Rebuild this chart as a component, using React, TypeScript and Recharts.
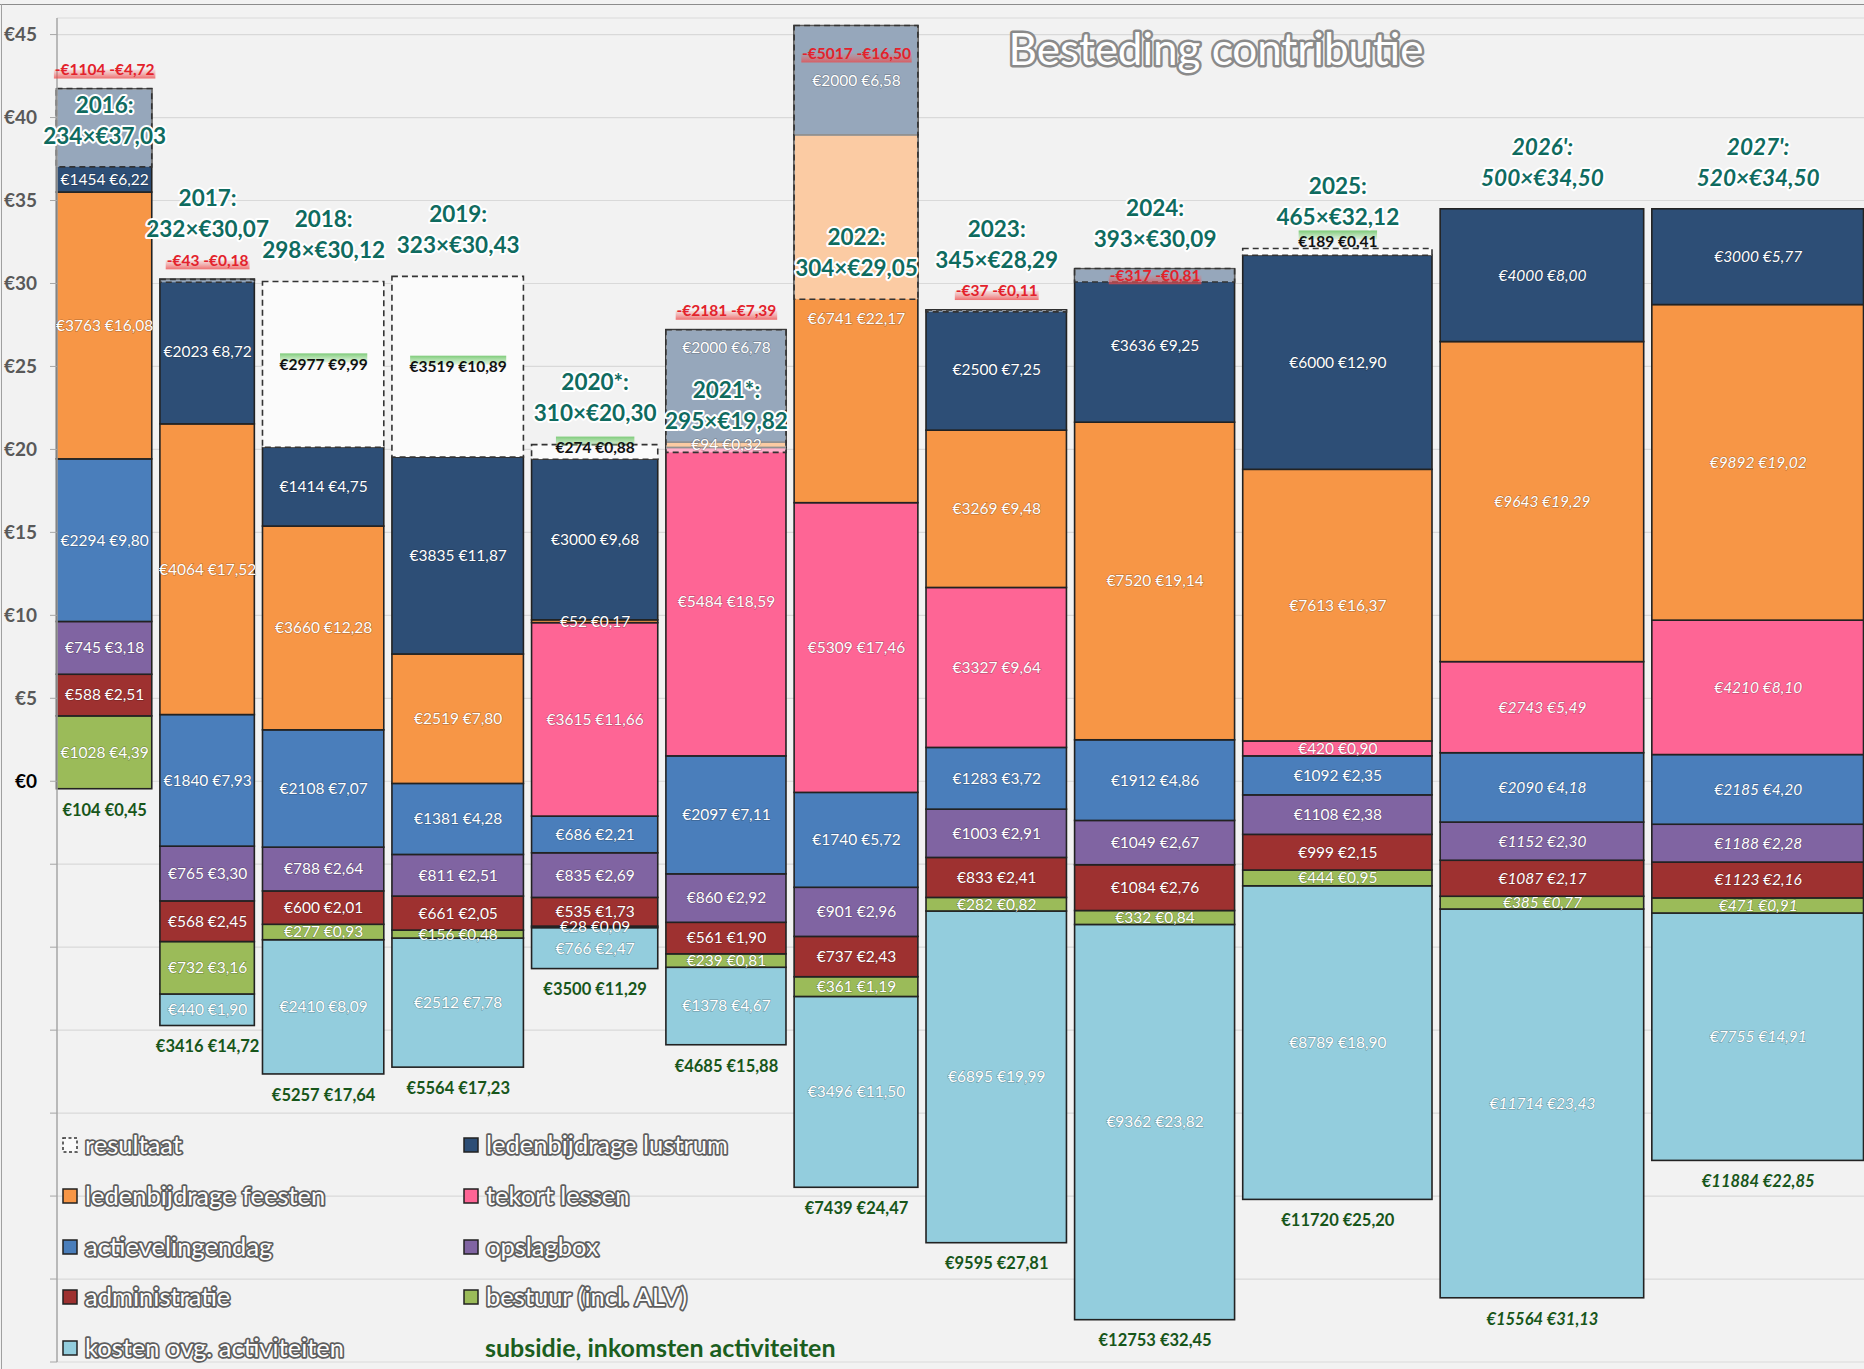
import React from "react";
import { ComposedChart, Bar, Line, XAxis, YAxis, CartesianGrid } from "recharts";

// --- data (per-member values in €, totals in €) ---
const years = ["2016", "2017", "2018", "2019", "2020*", "2021*", "2022", "2023", "2024", "2025", "2026'", "2027'"];
const members = [234, 232, 298, 323, 310, 295, 304, 345, 393, 465, 500, 520];
const contribution = [37.03, 30.07, 30.12, 30.43, 20.3, 19.82, 29.05, 28.29, 30.09, 32.12, 34.5, 34.5];

const subsidieEur = [104, 3416, 5257, 5564, 3500, 4685, 7439, 9595, 12753, 11720, 15564, 11884];
const subsidiePer = [0.45, 14.72, 17.64, 17.23, 11.29, 15.88, 24.47, 27.81, 32.45, 25.2, 31.13, 22.85];

const kostenEur = [0, 440, 2410, 2512, 766, 1378, 3496, 6895, 9362, 8789, 11714, 7755];
const kostenPer = [0, 1.9, 8.09, 7.78, 2.47, 4.67, 11.5, 19.99, 23.82, 18.9, 23.43, 14.91];
const bestuurEur = [1028, 732, 277, 156, 28, 239, 361, 282, 332, 444, 385, 471];
const bestuurPer = [4.39, 3.16, 0.93, 0.48, 0.09, 0.81, 1.19, 0.82, 0.84, 0.95, 0.77, 0.91];
const adminEur = [588, 568, 600, 661, 535, 561, 737, 833, 1084, 999, 1087, 1123];
const adminPer = [2.51, 2.45, 2.01, 2.05, 1.73, 1.9, 2.43, 2.41, 2.76, 2.15, 2.17, 2.16];
const opslagEur = [745, 765, 788, 811, 835, 860, 901, 1003, 1049, 1108, 1152, 1188];
const opslagPer = [3.18, 3.3, 2.64, 2.51, 2.69, 2.92, 2.96, 2.91, 2.67, 2.38, 2.3, 2.28];
const actieEur = [2294, 1840, 2108, 1381, 686, 2097, 1740, 1283, 1912, 1092, 2090, 2185];
const actiePer = [9.8, 7.93, 7.07, 4.28, 2.21, 7.11, 5.72, 3.72, 4.86, 2.35, 4.18, 4.2];
const lessenEur = [0, 0, 0, 0, 3615, 5484, 5309, 3327, 0, 420, 2743, 4210];
const lessenPer = [0, 0, 0, 0, 11.66, 18.59, 17.46, 9.64, 0, 0.9, 5.49, 8.1];
const feestenEur = [3763, 4064, 3660, 2519, 52, 94, 6741, 3269, 7520, 7613, 9643, 9892];
const feestenPer = [16.08, 17.52, 12.28, 7.8, 0.17, 0.32, 22.17, 9.48, 19.14, 16.37, 19.29, 19.02];
const lustrumEur = [1454, 2023, 1414, 3835, 3000, 2000, 2000, 2500, 3636, 6000, 4000, 3000];
const lustrumPer = [6.22, 8.72, 4.75, 11.87, 9.68, 6.78, 6.58, 7.25, 9.25, 12.9, 8.0, 5.77];
const resultaatEur = [-1104, -43, 2977, 3519, 274, -2181, -5017, -37, -317, 189, 0, 0];
const resultaatPer = [-4.72, -0.18, 9.99, 10.89, 0.88, -7.39, -16.5, -0.11, -0.81, 0.41, 0, 0];

const yTicks = [-35, -30, -25, -20, -15, -10, -5, 0, 5, 10, 15, 20, 25, 30, 35, 40, 45];

const legendRows = [
  ["resultaat", "ledenbijdrage lustrum"],
  ["ledenbijdrage feesten", "tekort lessen"],
  ["actievelingendag", "opslagbox"],
  ["administratie", "bestuur (incl. ALV)"],
  ["kosten ovg. activiteiten", "subsidie, inkomsten activiteiten"],
];

// --- layout ---
const W = 1864;
const H = 1369;
const MARGIN = { top: 18, right: 0, bottom: 7, left: 0 };
const Y_AXIS_W = 57;
const Y_DOMAIN = [-35, 46];
const GAP = 20; // gap between columns, in member units
const FONT = "Lato, 'Open Sans', sans-serif";

const starts: number[] = [];
let acc = 0;
members.forEach((m) => {
  starts.push(acc);
  acc += m + GAP;
});
const X_TOTAL = acc - GAP;
const PX_PER_MEMBER = (W - Y_AXIS_W - MARGIN.right) / X_TOTAL;
const PX_PER_EURO = (H - MARGIN.top - MARGIN.bottom) / (Y_DOMAIN[1] - Y_DOMAIN[0]);

const COLORS: Record<string, string> = {
  kosten: "#93cddd",
  bestuur: "#9bbb59",
  admin: "#9e3130",
  opslag: "#8064a2",
  actie: "#4a7ebb",
  lessen: "#fe6595",
  feesten: "#f79646",
  lustrum: "#2d4e76",
};

const SEGS = [
  { key: "kosten", eur: kostenEur, per: kostenPer },
  { key: "bestuur", eur: bestuurEur, per: bestuurPer },
  { key: "admin", eur: adminEur, per: adminPer },
  { key: "opslag", eur: opslagEur, per: opslagPer },
  { key: "actie", eur: actieEur, per: actiePer },
  { key: "lessen", eur: lessenEur, per: lessenPer },
  { key: "feesten", eur: feestenEur, per: feestenPer },
  { key: "lustrum", eur: lustrumEur, per: lustrumPer },
];

const rows = years.map((y, i) => {
  const r: any = {
    idx: i,
    year: y,
    x: starts[i] + members[i] / 2,
    members: members[i],
    contrib: contribution[i],
    base: -subsidiePer[i],
    resPos: Math.max(0, resultaatPer[i]),
    deficit: Math.max(0, -resultaatPer[i]),
  };
  SEGS.forEach((s) => (r[s.key] = s.per[i]));
  return r;
});

const fmt = (v: number) => Math.abs(v).toFixed(2).replace(".", ",");
const isForecast = (i: number) => years[i].endsWith("'");

// deficit size classes: big box holds the year label, mid box holds the red label
const BIG = 2.4;
const MID = 0.5;

const segLow = (i: number, k: number) => {
  let lo = -subsidiePer[i];
  for (let j = 0; j < k; j++) lo += SEGS[j].per[i];
  return lo;
};
const stackTop = (i: number) => segLow(i, SEGS.length);

const segMid = (i: number, k: number) => {
  const v = SEGS[k].per[i];
  if (!v) return null;
  const lo = segLow(i, k);
  let mid = lo + v / 2;
  const c = contribution[i];
  const d = rows[i].deficit;
  if (d > 0 && mid > c && c - lo >= 1) mid = (lo + c) / 2;
  // keep clear of a year label that sits inside a big deficit box
  if (d > BIG && mid > c + 1.1 && mid < c + 4.6) mid = c + 6.3;
  return mid;
};

const textWidth = (t: string, size: number) => {
  let w = 0;
  for (const ch of t) w += ch === " " || ch === "," ? 0.25 : ch === "-" ? 0.33 : 0.57;
  return w * size;
};

// --- shapes ---
function columnShape(fill: string, stroke: string, dash?: string, fillOpacity = 1) {
  return (p: any) => {
    let { x, y, width, height } = p;
    const i = p.index;
    if (height == null || Math.abs(height) < 0.01 || x == null) return <g />;
    if (height < 0) {
      y += height;
      height = -height;
    }
    const cx = x + width / 2;
    const w = (p.payload?.members ?? members[i]) * PX_PER_MEMBER;
    return (
      <rect
        x={cx - w / 2}
        y={y}
        width={w}
        height={height}
        fill={fill}
        fillOpacity={fillOpacity}
        stroke={stroke}
        strokeWidth={1.6}
        strokeDasharray={dash}
      />
    );
  };
}

const empty = (p: any, tag: string) => <g key={`${tag}${p.index}`} />;
const bad = (p: any) => p.cy == null || isNaN(p.cy) || p.cx == null;

function segLabel(k: number) {
  return (p: any) => {
    if (bad(p)) return empty(p, `s${k}_`);
    const i = p.index;
    const s = SEGS[k];
    return (
      <text
        key={`s${k}_${i}`}
        x={p.cx}
        y={p.cy}
        dy="0.35em"
        textAnchor="middle"
        fontFamily={FONT}
        fontSize={15.5}
        fontStyle={isForecast(i) ? "italic" : "normal"}
        fill="#ffffff"
        stroke="rgba(0,0,0,0.22)"
        strokeWidth={1.4}
        paintOrder="stroke"
      >
        {`€${s.eur[i]} €${fmt(s.per[i])}`}
      </text>
    );
  };
}

// anchor: top of the resultaat box; offset depends on the box height
const resLabel = (p: any) => {
  if (bad(p)) return empty(p, "r");
  const i = p.index;
  const t = `€${resultaatEur[i]} €${fmt(resultaatPer[i])}`;
  const w = textWidth(t, 15.5);
  const boxPx = resultaatPer[i] * PX_PER_EURO;
  const y = boxPx < 10 ? p.cy - 7 : boxPx < 20 ? p.cy + 3 : p.cy + boxPx / 2;
  return (
    <g key={`r${i}`}>
      <rect x={p.cx - w / 2} y={y - 11} width={w} height={9} fill="url(#greenHl)" />
      <text x={p.cx} y={y} dy="0.35em" textAnchor="middle" fontFamily={FONT} fontSize={15.5} fontWeight={700} fill="#111">
        {t}
      </text>
    </g>
  );
};

const redLabel = (p: any) => {
  if (bad(p)) return empty(p, "n");
  const i = p.index;
  const d = rows[i].deficit;
  const t = `-€${Math.abs(resultaatEur[i])} -€${fmt(resultaatPer[i])}`;
  const w = textWidth(t, 15.5);
  let y = p.cy - 19;
  if (d >= MID && d <= BIG) y = p.cy + (d * PX_PER_EURO) / 2;
  else if (y < 35) y = p.cy + 28;
  return (
    <g key={`n${i}`}>
      <rect x={p.cx - w / 2 - 2} y={y} width={w + 4} height={9} fill="url(#redHl)" />
      <text x={p.cx} y={y} dy="0.35em" textAnchor="middle" fontFamily={FONT} fontSize={15.5} fontWeight={700} fill="#e3222b">
        {t}
      </text>
    </g>
  );
};

const yearLabel = (p: any) => {
  if (bad(p)) return empty(p, "y");
  const i = p.index;
  const d = rows[i].deficit;
  const tiny = d > 0 && d < MID;
  const y2 = p.cy + (tiny ? -50 : d >= MID && d <= BIG ? -29 : -31);
  const style = {
    fontFamily: FONT,
    fontSize: 22.5,
    fontWeight: 700,
    fontStyle: isForecast(i) ? "italic" : "normal",
  } as const;
  return (
    <g key={`y${i}`} fill="#0f6b5f" stroke="#ffffff" strokeWidth={4} strokeLinejoin="round" paintOrder="stroke">
      <text x={p.cx} y={y2 - 31} dy="0.35em" textAnchor="middle" style={style}>
        {`${years[i]}:`}
      </text>
      <text x={p.cx} y={y2} dy="0.35em" textAnchor="middle" style={style}>
        {`${members[i]}×€${fmt(contribution[i])}`}
      </text>
    </g>
  );
};

const subsidieLabel = (p: any) => {
  if (bad(p)) return empty(p, "b");
  const i = p.index;
  return (
    <text
      key={`b${i}`}
      x={p.cx}
      y={p.cy + 21}
      dy="0.35em"
      textAnchor="middle"
      fontFamily={FONT}
      fontSize={16.5}
      fontWeight={700}
      fontStyle={isForecast(i) ? "italic" : "normal"}
      fill="#17561a"
    >
      {`€${subsidieEur[i]} €${fmt(subsidiePer[i])}`}
    </text>
  );
};

const YTick = (p: any) => {
  const v = p.payload?.value;
  if (v == null || v < 0) return <g />;
  return (
    <text
      x={37}
      y={p.y}
      dy="0.35em"
      textAnchor="end"
      fontFamily={FONT}
      fontSize={19}
      fontWeight={700}
      fill={v === 0 ? "#000" : "#595959"}
    >
      {`€${v}`}
    </text>
  );
};

function LegendAndTitle() {
  const markerColors = [
    [null, COLORS.lustrum],
    [COLORS.feesten, COLORS.lessen],
    [COLORS.actie, COLORS.opslag],
    [COLORS.admin, COLORS.bestuur],
    [COLORS.kosten, "none"],
  ];
  const rowY = [1145, 1196, 1247, 1297, 1348];
  const colX = [63, 464];
  const outline = {
    fontFamily: FONT,
    fontSize: 25.5,
    fill: "#ffffff",
    stroke: "#5e5e5e",
    strokeWidth: 3.5,
    strokeLinejoin: "round" as const,
    paintOrder: "stroke",
  };
  return (
    <svg width={W} height={H} style={{ position: "absolute", left: 0, top: 0, pointerEvents: "none" }}>
      <text
        x={1216}
        y={50}
        dy="0.35em"
        textAnchor="middle"
        style={{ ...outline, fontSize: 44, stroke: "#8a8a8a", strokeWidth: 5 }}
      >
        Besteding contributie
      </text>
      {legendRows.map((pair, r) =>
        pair.map((name, c) => {
          const color = markerColors[r][c];
          const x = colX[c];
          const y = rowY[r];
          if (color === "none") {
            return (
              <text key={name} x={x + 21} y={y} dy="0.35em" fontFamily={FONT} fontSize={25} fontWeight={700} fill="#1b5e20">
                {name}
              </text>
            );
          }
          return (
            <g key={name}>
              {color === null ? (
                <rect x={x} y={y - 7} width={14} height={14} fill="#fafafa" stroke="#333" strokeWidth={1.5} strokeDasharray="3 2.5" />
              ) : (
                <rect x={x} y={y - 7} width={14} height={14} fill={color} stroke="#222" strokeWidth={1.5} />
              )}
              <text x={x + 22} y={y} dy="0.35em" style={outline}>
                {name}
              </text>
            </g>
          );
        })
      )}
    </svg>
  );
}

export default function App() {
  return (
    <div
      style={{
        position: "fixed",
        left: 0,
        top: 0,
        width: W,
        height: H,
        background: "#f2f2f2",
        overflow: "hidden",
      }}
    >
      <div style={{ position: "absolute", left: 0, top: 4, width: W, borderTop: "1.5px solid #8c8c8c" }} />
      <div style={{ position: "absolute", left: 1, top: 4, height: H, borderLeft: "1.5px solid #a0a0a0" }} />
      <div style={{ position: "absolute", left: 0, top: 0 }}>
        <ComposedChart width={W} height={H} data={rows} margin={MARGIN} stackOffset="none">
          <defs>
            <linearGradient id="greenHl" x1="0" y1="0" x2="0" y2="1">
              <stop offset="0%" stopColor="#6fc66a" stopOpacity={0.9} />
              <stop offset="100%" stopColor="#9fdc98" stopOpacity={0.3} />
            </linearGradient>
            <linearGradient id="redHl" x1="0" y1="0" x2="0" y2="1">
              <stop offset="0%" stopColor="#f07070" stopOpacity={0.15} />
              <stop offset="100%" stopColor="#ee4444" stopOpacity={0.75} />
            </linearGradient>
          </defs>
          <CartesianGrid vertical={false} stroke="#d9d9d9" strokeWidth={1.2} />
          <XAxis xAxisId={0} type="number" dataKey="x" domain={[0, X_TOTAL]} hide />
          <XAxis xAxisId="ov" type="number" dataKey="x" domain={[0, X_TOTAL]} hide />
          <YAxis
            type="number"
            domain={Y_DOMAIN}
            ticks={yTicks}
            interval={0}
            width={Y_AXIS_W}
            tick={YTick}
            tickSize={7}
            axisLine={{ stroke: "#a6a6a6", strokeWidth: 1.5 }}
            tickLine={{ stroke: "#a6a6a6" }}
            allowDataOverflow
          />
          <Bar dataKey="base" stackId="s" barSize={10} fill="none" shape={() => <g />} isAnimationActive={false} />
          {SEGS.map((s) => (
            <Bar
              key={s.key}
              dataKey={s.key}
              stackId="s"
              barSize={10}
              fill={COLORS[s.key]}
              shape={columnShape(COLORS[s.key], "#222")}
              isAnimationActive={false}
            />
          ))}
          <Bar
            dataKey="resPos"
            stackId="s"
            barSize={10}
            fill="#fbfbfb"
            shape={columnShape("#fbfbfb", "#333", "6 4")}
            isAnimationActive={false}
          />
          <Bar
            xAxisId="ov"
            dataKey={(r: any) => (r.deficit > 0 ? [r.contrib, r.contrib + r.deficit] : null)}
            barSize={10}
            fill="#ffffff"
            shape={columnShape("#ffffff", "#333", "6 4", 0.5)}
            isAnimationActive={false}
          />
          {SEGS.map((s, k) => (
            <Line
              key={`l${s.key}`}
              dataKey={(r: any) => segMid(r.idx, k)}
              stroke="none"
              dot={segLabel(k)}
              activeDot={false}
              legendType="none"
              isAnimationActive={false}
            />
          ))}
          <Line
            dataKey={(r: any) => (r.resPos > 0 ? stackTop(r.idx) + r.resPos : null)}
            stroke="none"
            dot={resLabel}
            activeDot={false}
            isAnimationActive={false}
          />
          <Line
            dataKey={(r: any) => (r.deficit > 0 ? r.contrib + r.deficit : null)}
            stroke="none"
            dot={redLabel}
            activeDot={false}
            isAnimationActive={false}
          />
          <Line
            dataKey={(r: any) => (r.deficit > 0 && r.deficit <= BIG ? r.contrib + r.deficit : r.contrib)}
            stroke="none"
            dot={yearLabel}
            activeDot={false}
            isAnimationActive={false}
          />
          <Line dataKey="base" stroke="none" dot={subsidieLabel} activeDot={false} isAnimationActive={false} />
        </ComposedChart>
      </div>
      <LegendAndTitle />
    </div>
  );
}
